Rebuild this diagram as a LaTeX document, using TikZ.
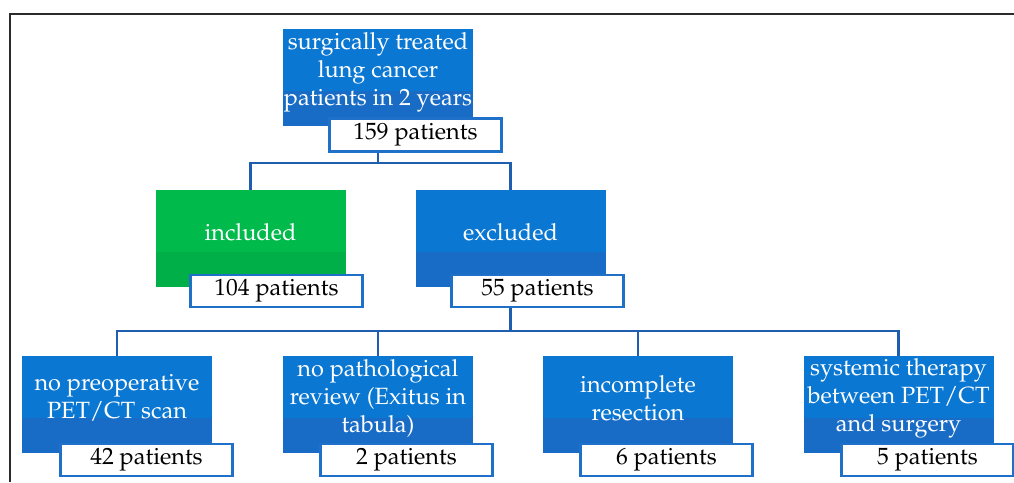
\documentclass[tikz,border=0pt]{standalone}
\usepackage[T1]{fontenc}
\usepackage{mathpazo}
\usetikzlibrary{calc}
\definecolor{boxblue}{HTML}{0A77D2}
\definecolor{boxblueb}{HTML}{196CC6}
\definecolor{boxgreen}{HTML}{00BB4C}
\definecolor{boxgreenb}{HTML}{00AF48}
\definecolor{labborder}{HTML}{1E70C9}
\definecolor{connc}{HTML}{1F5EAE}
\definecolor{framec}{HTML}{2B2B2B}
\begin{document}
\begin{tikzpicture}[x=1pt,y=-1pt,
  mainbox/.style={rectangle, minimum width=190pt, minimum height=97pt, inner sep=0pt, fill=#1,
    path picture={\fill[#1b] ($(path picture bounding box.south west)!0.36!(path picture bounding box.north west)$) rectangle (path picture bounding box.south east);}},
  maintext/.style={text=white, align=center, font=\fontsize{23.5}{28}\selectfont, inner sep=0pt},
  labbox/.style={rectangle, draw=labborder, line width=2.7pt, fill=white, minimum width=172pt, minimum height=32pt, inner sep=0pt, font=\fontsize{23.5}{28}\selectfont, text=black},
  conn/.style={draw=connc, line width=2.8pt}
]
\useasboundingbox (0,0) rectangle (1014,482);
\draw[framec, line width=2.2pt] (10,482) -- (10,14) -- (1014,14);

% main boxes
\node[mainbox=boxblue] (top) at (378,77.5) {};
\node[mainbox=boxgreen] (incl) at (250.5,238.5) {};
\node[mainbox=boxblue] (excl) at (510.5,238.5) {};
\node[mainbox=boxblue] (b1) at (117,404.5) {};
\node[mainbox=boxblue] (b2) at (378,404.5) {};
\node[mainbox=boxblue] (b3) at (638,404.5) {};
\node[mainbox=boxblue] (b4) at (898.5,404.5) {};

% texts
\node[maintext] (topt) at (378,72) {surgically treated\\lung cancer\\patients in 2 years};
\node[maintext] (inclt) at (250.5,232) {included};
\node[maintext] (exclt) at (510.5,232) {excluded};
\node[maintext] (b1t) at (117,398) {no preoperative\\PET/CT scan};
\node[maintext] (b2t) at (378,398) {no pathological\\review (Exitus in\\tabula)};
\node[maintext] (b3t) at (638,398) {incomplete\\resection};
\node[maintext] (b4t) at (898.5,398) {systemic therapy\\between PET/CT\\and surgery};

% connectors
\coordinate (bus1) at (378,163);
\coordinate (bus2) at (510.5,331);
\draw[conn] (top.south) -- (bus1);
\draw[conn] (incl.north) |- (bus1) -| (excl.north);
\draw[conn] (excl.south) -- (bus2);
\draw[conn] (b1.north) |- (bus2) -| (b4.north);
\draw[conn] (b2.north) -- (b2.north |- bus2);
\draw[conn] (b3.north) -- (b3.north |- bus2);

% label boxes
\node[labbox, minimum height=33pt] (l159) at (415.5,135) {159 patients};
\node[labbox] (l104) at (276.5,291) {104 patients};
\node[labbox] (l55) at (537.5,291) {55 patients};
\node[labbox] (l42) at (146.5,460) {42 patients};
\node[labbox] (l2) at (406.5,460) {2 patients};
\node[labbox] (l6) at (666.5,460) {6 patients};
\node[labbox] (l5) at (927.5,460) {5 patients};
\end{tikzpicture}
\end{document}
